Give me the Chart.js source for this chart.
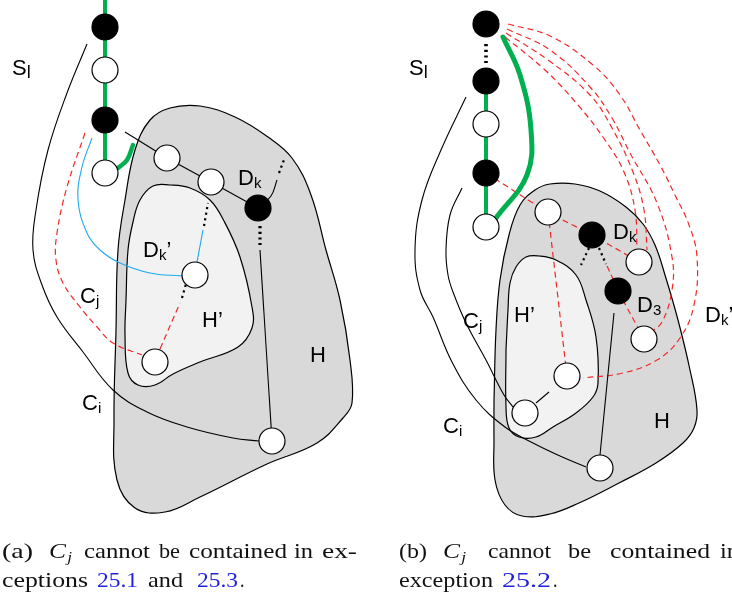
<!DOCTYPE html>
<html><head><meta charset="utf-8">
<script src="https://cdn.jsdelivr.net/npm/chart.js@4"></script>
<style>html,body{margin:0;padding:0;background:#fff;}canvas{display:block;}</style>
</head><body>
<canvas id="c" width="732" height="601"></canvas>
<script>
// picture coordinates, y grows downwards (y axis reversed)
const whiteNodesA = [[105,70],[105,173],[167,158],[211,182],[195,275],[155,362],[272,441]];
const blackNodesA = [[105,27],[105,120],[258,208]];
const whiteNodesB = [[486,124],[486,227],[548,212],[639,262],[644,339],[567,376],[525,413],[600,468]];
const blackNodesB = [[486,24],[486,81],[486,173],[592,235],[618,291]];

// regions
const regionHA  = [[116,330],[118,250],[125,200],[135,150],[150,120],[170,108],[200,106],[235,117],[268,137],[292,158],[311,195],[326,250],[340,300],[350,360],[352,403],[343,418],[317,443],[267,464],[200,497],[165,512],[135,508],[117,480],[114,420],[116,330]];
const regionHpA = [[126,300],[128,250],[133,222],[140,200],[153,186],[170,185],[190,188],[210,200],[224,221],[240,257],[252,307],[252,328],[238,347],[200,362],[173,374],[155,385],[138,385],[128,373],[125,335],[126,300]];
const regionHB  = [[494,400],[496,330],[500,280],[509,235],[520,205],[535,190],[550,184],[575,184],[600,191],[626,207],[643,224],[655,245],[665,275],[678,320],[690,370],[697,410],[694,428],[683,443],[656,463],[619,483],[579,503],[550,514],[522,516],[505,505],[495,480],[494,440],[494,400]];
const regionHpB = [[506,350],[508,310],[510,283],[516,267],[526,257],[539,256],[556,260],[576,275],[586,300],[596,337],[598,383],[593,397],[576,413],[553,427],[536,437],[519,437],[509,428],[506,407],[506,350]];

// panel (a) edges
const greenA = [[105,0],[105,173]];
const greenArcA = [[118,168],[127,160],[133,145]];
const chainA = [[125,132],[167,158],[211,182],[258,208]];
const dkCurveA = [[258,208],[271,196],[277,180]];
const dkDotsA = [[279,173],[285,157]];
const dkDownDotsA = [[260,226],[260,245]];
const dkDownLineA = [[260,250],[272,441]];
const ciA = [[87,44],[67,93],[48,150],[36,210],[33,250],[42,285],[57,317],[83,352],[113,390],[147,412],[187,427],[233,438],[259,441]];
const redA = [[85,133],[67,187],[57,233],[56,260],[63,283],[80,307],[97,327],[113,343],[142,355]];
const blueA = [[92,138],[82,167],[78,200],[87,233],[100,250],[120,263],[150,273],[182,276]];
const blueUpA = [[197,262],[203,230]];
const blueDotsA = [[204,226],[208,203]];
const redUpA = [[160,349],[180,303]];
const redDotsA = [[182,298],[186,284]];

// panel (b) edges
const greenB = [[486,81],[486,227]];
const greenArcB = [[503,37],[520,75],[531,130],[527,175],[496,218]];
const topDotsB = [[486,44],[486,63]];
const ciB = [[466,97],[441,150],[422,200],[415,250],[420,290],[433,317],[452,362],[476,400],[505,427],[533,443],[560,456],[586,467]];
const cjB = [[462,188],[450,215],[446,250],[448,275],[453,292],[466,323],[486,360],[504,395],[513,407]];
const stubB = [[536,403],[549,392]];
const lineB = [[614,313],[600,455]];
const redChainB = [[486,173],[548,212],[592,235],[639,262]];
const redVertB = [[548,212],[567,376]];
const redD3B = [[607,266],[613,279]];
const redD3WB = [[618,291],[644,339]];
const dotsB1 = [[589,248],[581,265]];
const dotsB2 = [[599,248],[606,264]];
// dashed arcs leaving the top node
const arcOuterB = [[508,24],[550,36],[593,65],[620,95],[640,130],[660,165],[675,195],[689,225],[697,257],[694,305],[680,338],[657,360],[623,373],[583,378]];
const arcSecondB = [[507,29],[550,50],[590,87],[612,118],[630,153],[657,203],[672,257],[672,290],[662,322],[650,333]];
const arcThirdB = [[506,33],[548,60],[590,95],[612,128],[633,172],[644,210],[647,250]];
const arcInnerB = [[505,37],[545,70],[578,105],[605,140],[624,172],[635,210],[637,249]];

// labels: main, subscript, suffix, x, baseline
const panelLabels = [
  ['S','l','',12,75], ['D','k','',238,185], ['D','k','\u2019',143,257], ['C','j','',80,303],
  ['H\u2019','','',202,327], ['H','','',310,362], ['C','i','',82,410],
  ['S','l','',409,75], ['D','k','',613,239], ['D','3','',637,312], ['D','k','\u2019',705,322],
  ['C','j','',463,328], ['H\u2019','','',514,322], ['C','i','',443,433], ['H','','',654,428]
];
// caption words: text, left x, right x, baseline, kind
const captionWords = [
  ['(a)',2,33,558,''], ['C',49,66,558,'math'], ['cannot',84,150,558,''], ['be',159,180,558,''], ['contained',189,287,558,''], ['in',294,313,558,''], ['ex-',322,357,558,''],
  ['ceptions',2,88,587,''], ['25.1',97,138,587,'link'], ['and',148,183,587,''], ['25.3',197,238,587,'link'], ['.',240,244,587,''],
  ['(b)',399,427,558,''], ['C',443,460,558,'math'], ['cannot',488,551,558,''], ['be',568,591,558,''], ['contained',610,710,558,''], ['in',720,739,558,''],
  ['exception',399,493,587,''], ['25.2',502,551,587,'link'], ['.',553,557,587,'']
];

const RED = '#f02a2a', GREEN = '#00b050', BLUE = '#1eaaf0';
const pts = (a) => a.map(([x,y]) => ({x, y}));

function line(data, color, width, extra = {}){
  return { data: pts(data), borderColor: color, borderWidth: width, pointRadius: 0, tension: 0.4, fill: false, order: 5, ...extra };
}
const dashed = (d, w = 1.2) => line(d, RED, w, { borderDash: [6,4] });
const dots = (d, w = 2.2) => line(d, '#000', w, { borderDash: [2.2,3.5], tension: 0 });
const region = (d, bg) => line(d, '#000', 1.2, { fill: 'shape', backgroundColor: bg, order: 20 });
const nodes = (d, bg) => ({ data: pts(d), showLine: false, pointRadius: 13, pointHoverRadius: 13, pointBackgroundColor: bg, pointBorderColor: '#000', pointBorderWidth: 1.2, order: 0 });

const datasets = [
  nodes(whiteNodesA, '#fff'), nodes(blackNodesA, '#000'), nodes(whiteNodesB, '#fff'), nodes(blackNodesB, '#000'),
  region(regionHA, '#d9d9d9'), { ...region(regionHpA, '#f2f2f2'), order: 19 },
  region(regionHB, '#d9d9d9'), { ...region(regionHpB, '#f2f2f2'), order: 19 },
  line(greenA, GREEN, 4, { tension: 0 }), line(greenArcA, GREEN, 4.5, { borderCapStyle: 'round' }),
  line(chainA, '#000', 1.1, { tension: 0 }), line(dkCurveA, '#000', 1.1), dots(dkDotsA),
  dots(dkDownDotsA, 3.2), line(dkDownLineA, '#000', 1.1, { tension: 0 }),
  line(ciA, '#000', 1.1), dashed(redA), line(blueA, BLUE, 1.1), line(blueUpA, BLUE, 1.1, { tension: 0 }),
  dots(blueDotsA), dashed(redUpA), dots(redDotsA),
  line(greenB, GREEN, 4, { tension: 0 }), line(greenArcB, GREEN, 5, { borderCapStyle: 'round' }),
  dots(topDotsB, 3.6), line(ciB, '#000', 1.1), line(cjB, '#000', 1.1),
  line(stubB, '#000', 1.1, { tension: 0 }), line(lineB, '#000', 1.1, { tension: 0 }),
  dashed(redChainB), dashed(redVertB), dashed(redD3B), dashed(redD3WB),
  dots(dotsB1), dots(dotsB2),
  dashed(arcOuterB), dashed(arcSecondB), dashed(arcThirdB), dashed(arcInnerB)
];

const SANS = '"Liberation Sans", Arial, sans-serif';
const SERIF = '"Liberation Serif", "Times New Roman", serif';

const textPlugin = {
  id: 'texts',
  afterDatasetsDraw(chart){
    const { ctx, scales: { x, y } } = chart;
    ctx.save();
    ctx.fillStyle = '#000';
    ctx.textBaseline = 'alphabetic';
    panelLabels.forEach(([main, sub, suf, lx, ly]) => {
      const px = x.getPixelForValue(lx), py = y.getPixelForValue(ly);
      ctx.font = '22px ' + SANS;
      ctx.fillText(main, px, py);
      let w = ctx.measureText(main).width;
      if(sub){
        ctx.font = (sub === 'l' ? '18px ' : '15px ') + SANS;
        ctx.fillText(sub, px + w, py + 3);
        w += ctx.measureText(sub).width;
      }
      if(suf){ ctx.font = '22px ' + SANS; ctx.fillText(suf, px + w, py); }
    });
    // caption words, each stretched to the width it has in the picture
    captionWords.forEach(([t, x0, x1, cy, kind]) => {
      const px = x.getPixelForValue(x0), py = y.getPixelForValue(cy);
      const target = x.getPixelForValue(x1) - px;
      ctx.save();
      ctx.fillStyle = kind === 'link' ? '#2222dd' : '#111';
      ctx.font = (kind === 'math' ? 'italic ' : '') + '22px ' + SERIF;
      const w = ctx.measureText(t).width;
      ctx.translate(px, py);
      ctx.scale(Math.max(0.8, Math.min(1.4, target / w)), 1);
      ctx.fillText(t, 0, 0);
      if(kind === 'math'){
        ctx.font = 'italic 15px ' + SERIF;
        ctx.fillText('j', w + 1, 4);
      }
      ctx.restore();
    });
    ctx.restore();
  }
};

new Chart(document.getElementById('c'), {
  type: 'line',
  data: { datasets },
  options: {
    responsive: false, animation: false, events: [],
    layout: { padding: 0, autoPadding: false },
    scales: {
      x: { type: 'linear', min: 0, max: 732, display: false },
      y: { type: 'linear', min: 0, max: 601, reverse: true, display: false }
    },
    plugins: { legend: { display: false }, tooltip: { enabled: false } }
  },
  plugins: [textPlugin]
});
</script>
</body></html>
